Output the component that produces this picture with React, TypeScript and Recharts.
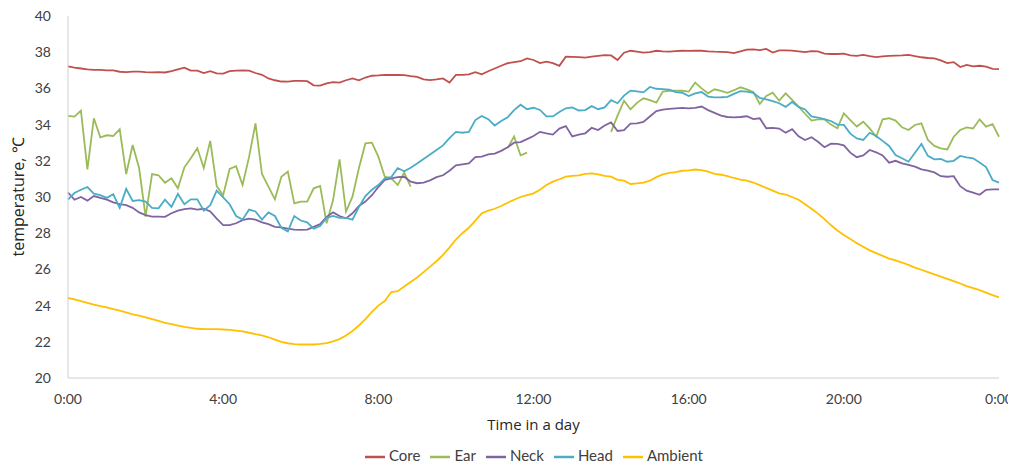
import { LineChart, Line, XAxis, YAxis, Legend } from 'recharts';

// one reading every 10 minutes, 0:00 to 24:00
const STEP_MIN = 10;

const core = [
  37.22, 37.15, 37.1, 37.05, 37.02, 37.02, 37.0, 37.0, 36.92, 36.9, 36.93, 36.93, 36.9, 36.88, 36.9, 36.88, 36.95, 37.05, 37.15, 36.98, 36.98, 36.85, 36.95, 36.83,
  36.82, 36.95, 36.98, 37.0, 36.98, 36.85, 36.75, 36.55, 36.45, 36.38, 36.37, 36.42, 36.42, 36.4, 36.17, 36.15, 36.28, 36.35, 36.32, 36.45, 36.55, 36.45, 36.6, 36.7,
  36.72, 36.75, 36.74, 36.75, 36.73, 36.68, 36.64, 36.5, 36.46, 36.5, 36.55, 36.32, 36.75, 36.75, 36.78, 36.9, 36.78, 36.95, 37.1, 37.25, 37.39, 37.45, 37.5, 37.66,
  37.57, 37.4, 37.48, 37.4, 37.25, 37.75, 37.74, 37.73, 37.7, 37.75, 37.8, 37.84, 37.82, 37.57, 37.97, 38.08, 38.03, 37.98, 38.0, 38.08, 38.04, 38.03, 38.06, 38.08,
  38.07, 38.08, 38.08, 38.05, 38.03, 38.02, 38.0, 37.95, 38.05, 38.14, 38.16, 38.12, 38.18, 37.98, 38.1, 38.1, 38.09, 38.05, 38.0, 38.06, 38.04, 37.92, 37.9, 37.9,
  37.92, 37.83, 37.8, 37.85, 37.78, 37.73, 37.77, 37.8, 37.81, 37.82, 37.85, 37.78, 37.72, 37.68, 37.66, 37.55, 37.4, 37.45, 37.18, 37.3, 37.22, 37.25, 37.2, 37.08, 37.07,
];

const ear = [
  34.48, 34.44, 34.77, 31.53, 34.35, 33.3, 33.41, 33.37, 33.74, 31.27, 32.87, 31.6, 28.91, 31.27, 31.2, 30.79, 31.03, 30.48, 31.64, 32.14, 32.69, 31.6, 33.1, 30.6,
  30.1, 31.55, 31.7, 30.66, 32.2, 34.07, 31.27, 30.57, 29.87, 31.12, 31.4, 29.65, 29.74, 29.74, 30.48, 30.61, 28.55, 29.83, 32.08, 29.19, 30.02, 31.6, 32.97, 33.0,
  32.23, 31.12, 31.03, 30.66, 31.35, 30.57, null, null, null, null, null, null, null, null, null, null, null, null, null, null, 32.7, 33.35, 32.3, 32.45,
  null, null, null, null, null, null, null, null, null, null, null, null, 33.6, 34.5, 35.32, 34.84, 35.2, 35.45, 35.35, 35.21, 35.82, 35.87, 35.87, 35.87,
  35.82, 36.32, 36.0, 35.73, 35.95, 35.86, 35.76, 35.9, 36.06, 35.95, 35.8, 35.14, 35.58, 35.76, 35.32, 35.73, 35.36, 34.99, 34.6, 34.22, 34.29, 34.29, 34.0, 33.8,
  34.62, 34.25, 33.89, 34.16, 33.79, 33.33, 34.29, 34.35, 34.22, 33.85, 33.7, 33.98, 34.07, 33.15, 32.82, 32.69, 32.63, 33.33, 33.7, 33.85, 33.79, 34.29, 33.89, 34.03, 33.33,
];

const neck = [
  30.25, 29.85, 30.0, 29.8, 30.05, 29.95, 29.85, 29.7, 29.6, 29.55, 29.4, 29.15, 29.0, 28.92, 28.92, 28.9, 29.1, 29.25, 29.33, 29.37, 29.3, 29.35, 29.2, 28.8,
  28.45, 28.45, 28.55, 28.72, 28.8, 28.75, 28.6, 28.5, 28.35, 28.32, 28.25, 28.2, 28.18, 28.2, 28.35, 28.5, 28.9, 29.15, 28.95, 28.82, 29.1, 29.5, 29.75, 30.1,
  30.55, 30.94, 31.03, 31.1, 31.12, 30.85, 30.76, 30.8, 30.92, 31.1, 31.2, 31.45, 31.75, 31.8, 31.85, 32.2, 32.23, 32.35, 32.4, 32.55, 32.75, 33.0, 33.03, 33.2,
  33.37, 33.6, 33.52, 33.45, 33.78, 33.92, 33.35, 33.45, 33.52, 33.82, 33.7, 33.95, 34.12, 33.65, 33.7, 34.05, 34.07, 34.15, 34.45, 34.75, 34.83, 34.87, 34.9, 34.92,
  34.9, 34.92, 35.0, 34.8, 34.65, 34.5, 34.42, 34.4, 34.42, 34.46, 34.3, 34.35, 33.8, 33.82, 33.78, 33.55, 33.75, 33.35, 33.15, 33.3, 33.05, 32.75, 32.95, 32.93,
  32.85, 32.45, 32.2, 32.3, 32.6, 32.47, 32.3, 31.9, 32.0, 31.86, 31.77, 31.68, 31.53, 31.46, 31.36, 31.15, 31.12, 31.15, 30.6, 30.35, 30.24, 30.12, 30.4, 30.42, 30.42,
];

const head = [
  29.85, 30.22, 30.4, 30.55, 30.18, 30.1, 29.95, 30.15, 29.4, 30.45, 29.78, 29.83, 29.75, 29.4, 29.37, 29.85, 29.45, 30.17, 29.6, 29.87, 29.87, 29.25, 29.55, 30.35,
  29.98, 29.6, 28.95, 28.75, 29.3, 29.2, 28.75, 29.15, 28.95, 28.3, 28.1, 28.95, 28.7, 28.6, 28.25, 28.4, 28.85, 28.95, 28.85, 28.85, 28.75, 29.45, 30.05, 30.4,
  30.66, 31.03, 31.1, 31.6, 31.42, 31.62, 31.85, 32.1, 32.35, 32.6, 32.85, 33.25, 33.6, 33.55, 33.6, 34.25, 34.48, 34.3, 33.95, 34.2, 34.4, 34.8, 35.1, 34.85,
  34.93, 34.81, 34.45, 34.45, 34.7, 34.9, 34.95, 34.78, 34.8, 35.02, 34.85, 34.95, 35.35, 35.18, 35.6, 35.88, 35.83, 35.78, 36.08, 35.98, 35.96, 35.93, 35.8, 35.76,
  35.58, 35.72, 35.8, 35.55, 35.5, 35.51, 35.53, 35.7, 35.85, 35.82, 35.76, 35.47, 35.4, 35.3, 35.18, 34.98, 35.25, 34.98, 34.84, 34.45, 34.38, 34.3, 34.2, 34.0,
  33.98, 33.5, 33.24, 33.15, 33.55, 33.37, 33.1, 32.82, 32.32, 32.14, 31.95, 32.45, 32.93, 32.27, 32.08, 32.1, 31.95, 32.0, 32.27, 32.19, 32.14, 31.9, 31.65, 30.94, 30.79,
];

const ambient = [
  24.42, 24.35, 24.25, 24.15, 24.05, 23.97, 23.9, 23.8, 23.72, 23.62, 23.52, 23.45, 23.35, 23.25, 23.15, 23.05, 22.97, 22.9, 22.82, 22.77, 22.72, 22.7, 22.7, 22.7,
  22.68, 22.66, 22.62, 22.58, 22.5, 22.42, 22.35, 22.25, 22.12, 22.0, 21.92, 21.87, 21.85, 21.85, 21.85, 21.88, 21.93, 22.02, 22.15, 22.35, 22.6, 22.9, 23.25, 23.65,
  24.0, 24.25, 24.75, 24.8, 25.05, 25.3, 25.55, 25.85, 26.15, 26.45, 26.8, 27.2, 27.65, 28.0, 28.3, 28.7, 29.1, 29.25, 29.35, 29.5, 29.68, 29.85, 30.0, 30.1,
  30.2, 30.4, 30.66, 30.85, 30.98, 31.12, 31.17, 31.2, 31.28, 31.3, 31.25, 31.17, 31.12, 30.95, 30.9, 30.72, 30.75, 30.8, 30.9, 31.1, 31.25, 31.33, 31.38, 31.45,
  31.47, 31.52, 31.48, 31.4, 31.28, 31.23, 31.15, 31.05, 30.96, 30.9, 30.8, 30.66, 30.5, 30.35, 30.2, 30.13, 30.0, 29.85, 29.6, 29.35, 29.08, 28.78, 28.45, 28.15,
  27.9, 27.68, 27.45, 27.25, 27.05, 26.9, 26.75, 26.6, 26.5, 26.38, 26.25, 26.1, 25.98, 25.85, 25.72, 25.6, 25.48, 25.35, 25.22, 25.08, 24.97, 24.85, 24.72, 24.58, 24.45,
];

const seriesNames = ['Core', 'Ear', 'Neck', 'Head', 'Ambient'];
const xTicks = [0, 240, 480, 720, 960, 1200, 1440];
const yTicks = [20, 22, 24, 26, 28, 30, 32, 34, 36, 38, 40];

const rows = core.map((_, i) => ({
  t: i * STEP_MIN,
  core: core[i],
  ear: ear[i],
  neck: neck[i],
  head: head[i],
  ambient: ambient[i],
}));

const tickStyle = { fill: '#404040', fontSize: 14, fontFamily: 'Lato' };
const axisGray = '#d0d0d0';

export default function App() {
  return (
    <div style={{ fontFamily: 'Lato, sans-serif' }}>
      <LineChart width={1008} height={456} data={rows} margin={{ top: 8, right: 17, left: 0, bottom: 0 }} style={{ overflow: 'visible' }}>
        <XAxis
          dataKey="t"
          type="number"
          domain={[0, 1440]}
          ticks={xTicks}
          interval={0}
          tickFormatter={(v: number) => `${Math.round(v / 60) % 24}:00`}
          tick={tickStyle}
          tickLine={false}
          tickSize={0}
          tickMargin={16}
          axisLine={{ stroke: axisGray }}
          height={62}
          label={{ value: 'Time in a day', position: 'insideBottom', offset: 10, fill: '#262626', fontSize: 15, fontFamily: 'Open Sans' }}
        />
        <YAxis
          domain={[20, 40]}
          ticks={yTicks}
          interval={0}
          tick={tickStyle}
          tickLine={false}
          tickSize={0}
          tickMargin={17}
          axisLine={{ stroke: axisGray }}
          width={60}
          label={{ value: 'temperature, ℃', angle: -90, position: 'insideLeft', offset: 10, fill: '#262626', fontSize: 16, fontFamily: 'Open Sans', style: { textAnchor: 'middle' } }}
        />
        <Legend
          verticalAlign="bottom"
          height={24}
          iconType="plainline"
          iconSize={20}
          itemSorter={(item: any) => seriesNames.indexOf(item.value)}
          wrapperStyle={{ left: 357, width: 'auto', bottom: -6, fontSize: 15, fontFamily: 'Lato' }}
          formatter={(v: string) => <span style={{ color: '#404040' }}>{v}</span>}
        />
        <Line dataKey="core" name="Core" stroke="#c0504d" strokeWidth={1.8} dot={false} isAnimationActive={false} />
        <Line dataKey="ear" name="Ear" stroke="#9bbb59" strokeWidth={1.8} dot={false} isAnimationActive={false} />
        <Line dataKey="neck" name="Neck" stroke="#8064a2" strokeWidth={1.8} dot={false} isAnimationActive={false} />
        <Line dataKey="head" name="Head" stroke="#4bacc6" strokeWidth={1.8} dot={false} isAnimationActive={false} />
        <Line dataKey="ambient" name="Ambient" stroke="#ffc000" strokeWidth={1.8} dot={false} isAnimationActive={false} />
      </LineChart>
    </div>
  );
}
